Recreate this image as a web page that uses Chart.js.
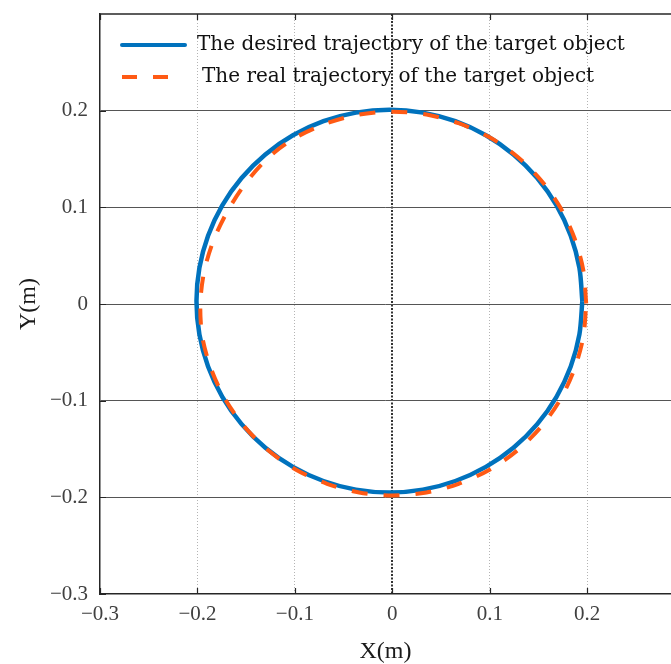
<!DOCTYPE html>
<html>
<head>
<meta charset="utf-8">
<script src="https://cdn.jsdelivr.net/npm/chart.js@4.4.1/dist/chart.umd.min.js"></script>
<style>
  html, body { margin: 0; padding: 0; background: #fff; }
  #wrap { width: 671px; height: 664px; position: relative; }
</style>
</head>
<body>
<div id="wrap"><canvas id="c"></canvas></div>
<script>
// tick values shown on the axes
var xTicks = [-0.3, -0.2, -0.1, 0, 0.1, 0.2];
var yTicks = [-0.3, -0.2, -0.1, 0, 0.1, 0.2];

// desired trajectory (every 10 degrees)
var desiredX = [0.195, 0.192, 0.1831, 0.1685, 0.1487, 0.1243, 0.096, 0.0647, 0.0314, -0.003,
  -0.0374, -0.0707, -0.102, -0.1303, -0.1547, -0.1745, -0.1891, -0.198, -0.201,
  -0.198, -0.1891, -0.1745, -0.1547, -0.1303, -0.102, -0.0707, -0.0374, -0.003,
  0.0314, 0.0647, 0.096, 0.1243, 0.1487, 0.1685, 0.1831, 0.192, 0.195];
var desiredY = [0.003, 0.0374, 0.0707, 0.102, 0.1303, 0.1547, 0.1745, 0.1891, 0.198, 0.201,
  0.198, 0.1891, 0.1745, 0.1547, 0.1303, 0.102, 0.0707, 0.0374, 0.003,
  -0.0314, -0.0647, -0.096, -0.1243, -0.1487, -0.1685, -0.1831, -0.192, -0.195,
  -0.192, -0.1831, -0.1685, -0.1487, -0.1243, -0.096, -0.0647, -0.0314, 0.003];

// real trajectory
var realX = [0.199, 0.196, 0.187, 0.1724, 0.1526, 0.1281, 0.0998, 0.068, 0.035, 0.0005,
  -0.034, -0.067, -0.0988, -0.126, -0.149, -0.168, -0.183, -0.193, -0.197,
  -0.195, -0.186, -0.1714, -0.1516, -0.1271, -0.0988, -0.067, -0.034, 0.0005,
  0.035, 0.068, 0.0998, 0.1281, 0.1526, 0.1724, 0.187, 0.196, 0.199];
var realY = [0.0005, 0.035, 0.068, 0.0998, 0.1281, 0.1526, 0.1724, 0.187, 0.196, 0.199,
  0.196, 0.187, 0.1724, 0.1526, 0.127, 0.098, 0.067, 0.034, 0.0005,
  -0.034, -0.067, -0.0988, -0.1271, -0.1516, -0.1714, -0.186, -0.195, -0.198,
  -0.195, -0.186, -0.1714, -0.1516, -0.1271, -0.0988, -0.067, -0.034, 0.0005];

var labels = ["The desired trajectory of the target object", "The real trajectory of the target object"];

var FONT = "'Liberation Serif', serif";
var LEGEND_FONT = "'DejaVu Serif', serif";

function toPoints(xs, ys) {
  var pts = [];
  for (var i = 0; i < xs.length; i++) pts.push({ x: xs[i], y: ys[i] });
  return pts;
}

function fmt(v) {
  if (Math.abs(v) < 1e-9) return "0";
  var s = Math.abs(v).toFixed(1);
  return (v < 0 ? "\u2212" : "") + s;
}

function isZero(c) { return c.tick && Math.abs(c.tick.value) < 1e-9; }
function isMin(c) { return c.tick && Math.abs(c.tick.value + 0.3) < 1e-9; }

// inward tick marks + top frame line
var frameTicks = {
  id: "frameTicks",
  afterDraw: function (chart) {
    var ctx = chart.ctx, a = chart.chartArea;
    var xs = chart.scales.x, ys = chart.scales.y;
    ctx.save();
    ctx.strokeStyle = "#262626";
    ctx.lineWidth = 1.5;
    ctx.beginPath();
    ctx.moveTo(a.left, a.top);
    ctx.lineTo(a.right, a.top);
    ctx.stroke();
    ctx.lineWidth = 1.2;
    ctx.beginPath();
    xTicks.forEach(function (v) {
      var px = Math.round(xs.getPixelForValue(v)) + 0.5;
      ctx.moveTo(px, a.bottom); ctx.lineTo(px, a.bottom - 6);
      ctx.moveTo(px, a.top); ctx.lineTo(px, a.top + 6);
    });
    yTicks.forEach(function (v) {
      var py = Math.round(ys.getPixelForValue(v)) + 0.5;
      ctx.moveTo(a.left, py); ctx.lineTo(a.left + 6, py);
    });
    ctx.stroke();
    ctx.restore();
  }
};

// legend drawn inside the plot, top left
var innerLegend = {
  id: "innerLegend",
  afterDatasetsDraw: function (chart) {
    var ctx = chart.ctx;
    var ds = chart.data.datasets;
    ctx.save();
    ctx.font = "20px " + LEGEND_FONT;
    ctx.fillStyle = "#111";
    ctx.textBaseline = "middle";
    // desired
    ctx.strokeStyle = ds[0].borderColor;
    ctx.lineWidth = 4;
    ctx.lineCap = "round";
    ctx.beginPath();
    ctx.moveTo(122, 45); ctx.lineTo(185, 45);
    ctx.stroke();
    ctx.fillText(ds[0].label, 197, 45);
    // real
    ctx.strokeStyle = ds[1].borderColor;
    ctx.lineCap = "butt";
    ctx.setLineDash([15, 16]);
    ctx.beginPath();
    ctx.moveTo(122, 77); ctx.lineTo(169, 77);
    ctx.stroke();
    ctx.setLineDash([]);
    ctx.fillText(ds[1].label, 202, 77);
    ctx.restore();
  }
};

new Chart(document.getElementById("c"), {
  type: "scatter",
  data: {
    datasets: [
      {
        label: labels[0],
        data: toPoints(desiredX, desiredY),
        showLine: true,
        borderColor: "#0072BD",
        borderWidth: 4.5,
        pointRadius: 0,
        tension: 0.3,
        order: 2
      },
      {
        label: labels[1],
        data: toPoints(realX, realY),
        showLine: true,
        borderColor: "#FF5A14",
        borderWidth: 4,
        borderDash: [16, 16],
        pointRadius: 0,
        tension: 0.3,
        order: 1
      }
    ]
  },
  options: {
    responsive: true,
    maintainAspectRatio: false,
    animation: false,
    layout: { padding: { top: 14, right: 0, left: 0, bottom: 0 } },
    plugins: {
      legend: { display: false },
      tooltip: { enabled: false }
    },
    scales: {
      x: {
        type: "linear",
        min: -0.3,
        max: 0.286,
        afterBuildTicks: function (s) { s.ticks = xTicks.map(function (v) { return { value: v }; }); },
        afterFit: function (s) { s.height = 70; s.paddingLeft = 0; s.paddingRight = 0; },
        border: {
          color: "#262626",
          width: 1.5,
          dash: function (c) { return isZero(c) ? [2, 1.5] : [1, 2]; }
        },
        grid: {
          drawTicks: false,
          color: function (c) {
            if (isZero(c)) return "#333";
            if (isMin(c)) return "rgba(0,0,0,0)";
            return "#b4b4b4";
          },
          lineWidth: function (c) { return isZero(c) ? 2 : 1; }
        },
        ticks: {
          autoSkip: false,
          maxRotation: 0,
          padding: 8,
          color: "#404040",
          font: { family: FONT, size: 21 },
          callback: function (v) { return fmt(v); }
        },
        title: {
          display: true,
          text: "X(m)",
          color: "#1a1a1a",
          font: { family: FONT, size: 24 },
          padding: { top: 0, bottom: -2 }
        }
      },
      y: {
        type: "linear",
        min: -0.3,
        max: 0.3,
        afterBuildTicks: function (s) { s.ticks = yTicks.map(function (v) { return { value: v }; }); },
        afterFit: function (s) { s.width = 100; s.paddingTop = 0; s.paddingBottom = 0; },
        border: { color: "#262626", width: 1.5 },
        grid: {
          drawTicks: false,
          color: function (c) { return isMin(c) ? "rgba(0,0,0,0)" : "#555"; },
          lineWidth: 1
        },
        ticks: {
          autoSkip: false,
          padding: 12,
          color: "#404040",
          font: { family: FONT, size: 21 },
          callback: function (v) { return fmt(v); }
        },
        title: {
          display: true,
          text: "Y(m)",
          color: "#1a1a1a",
          font: { family: FONT, size: 24 },
          padding: { top: 14, bottom: 0 }
        }
      }
    }
  },
  plugins: [frameTicks, innerLegend]
});
</script>
</body>
</html>
